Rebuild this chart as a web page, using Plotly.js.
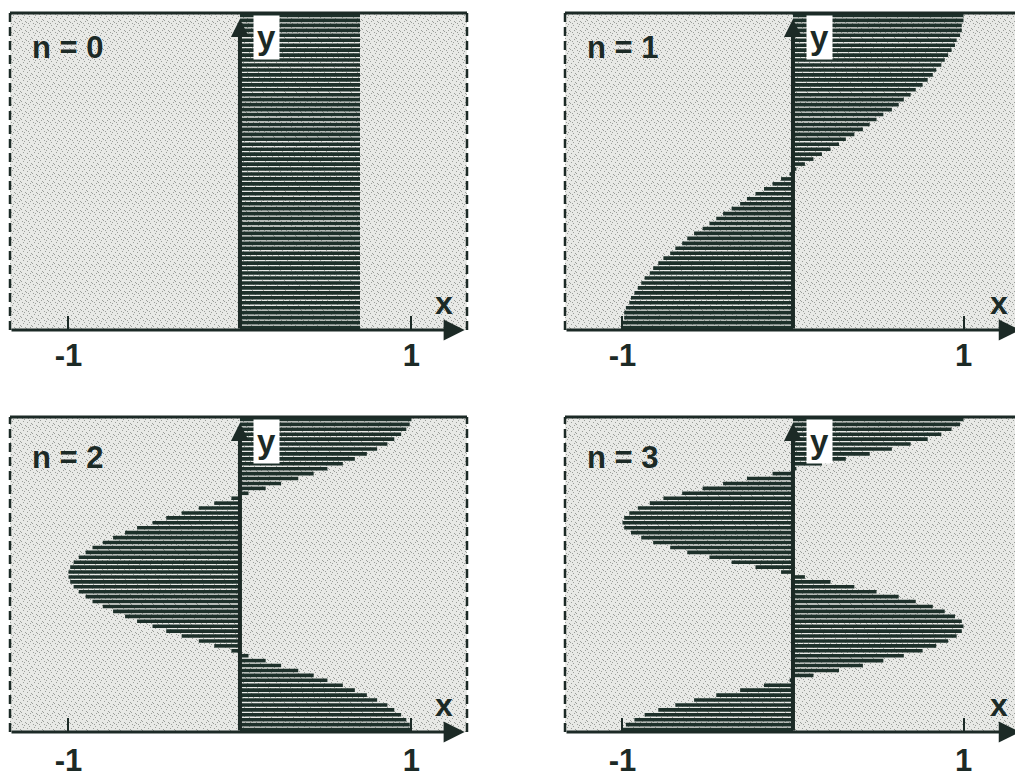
<!DOCTYPE html>
<html>
<head>
<meta charset="utf-8">
<script src="https://cdn.plot.ly/plotly-3.0.1.min.js"></script>
<style>
  html, body { margin: 0; padding: 0; background: #ffffff; }
  #chart { width: 1015px; height: 783px; }
</style>
</head>
<body>
<div id="chart"></div>
<script>
// Mode labels, one per panel
const modeLabels = ['n = 0', 'n = 1', 'n = 2', 'n = 3'];
// Ticks on every x axis
const tickValues = [-1, 1];
const tickLabels = ['-1', '1'];

// Amplitude of each of the 64 rows, listed from the top row down
const amplitudeN0 = [
  0.70, 0.70, 0.70, 0.70, 0.70, 0.70, 0.70, 0.70,
  0.70, 0.70, 0.70, 0.70, 0.70, 0.70, 0.70, 0.70,
  0.70, 0.70, 0.70, 0.70, 0.70, 0.70, 0.70, 0.70,
  0.70, 0.70, 0.70, 0.70, 0.70, 0.70, 0.70, 0.70,
  0.70, 0.70, 0.70, 0.70, 0.70, 0.70, 0.70, 0.70,
  0.70, 0.70, 0.70, 0.70, 0.70, 0.70, 0.70, 0.70,
  0.70, 0.70, 0.70, 0.70, 0.70, 0.70, 0.70, 0.70,
  0.70, 0.70, 0.70, 0.70, 0.70, 0.70, 0.70, 0.70
];
const amplitudeN1 = [
  1.00, 1.00, 0.99, 0.99, 0.98, 0.96, 0.95, 0.93,
  0.91, 0.89, 0.87, 0.84, 0.82, 0.79, 0.76, 0.72,
  0.69, 0.65, 0.62, 0.58, 0.53, 0.49, 0.45, 0.41,
  0.36, 0.31, 0.27, 0.22, 0.17, 0.12, 0.07, 0.02,
  -0.02, -0.07, -0.12, -0.17, -0.22, -0.27, -0.31, -0.36,
  -0.41, -0.45, -0.49, -0.53, -0.58, -0.62, -0.65, -0.69,
  -0.72, -0.76, -0.79, -0.82, -0.84, -0.87, -0.89, -0.91,
  -0.93, -0.95, -0.96, -0.98, -0.99, -0.99, -1.00, -1.00
];
const amplitudeN2 = [
  1.00, 0.99, 0.97, 0.94, 0.90, 0.86, 0.80, 0.74,
  0.67, 0.60, 0.51, 0.43, 0.34, 0.24, 0.15, 0.05,
  -0.05, -0.15, -0.24, -0.34, -0.43, -0.51, -0.60, -0.67,
  -0.74, -0.80, -0.86, -0.90, -0.94, -0.97, -0.99, -1.00,
  -1.00, -0.99, -0.97, -0.94, -0.90, -0.86, -0.80, -0.74,
  -0.67, -0.60, -0.51, -0.43, -0.34, -0.24, -0.15, -0.05,
  0.05, 0.15, 0.24, 0.34, 0.43, 0.51, 0.60, 0.67,
  0.74, 0.80, 0.86, 0.90, 0.94, 0.97, 0.99, 1.00
];
const amplitudeN3 = [
  1.00, 0.98, 0.93, 0.87, 0.79, 0.69, 0.58, 0.45,
  0.31, 0.17, 0.02, -0.12, -0.27, -0.41, -0.53, -0.65,
  -0.76, -0.84, -0.91, -0.96, -0.99, -1.00, -0.99, -0.95,
  -0.89, -0.82, -0.72, -0.62, -0.49, -0.36, -0.22, -0.07,
  0.07, 0.22, 0.36, 0.49, 0.62, 0.72, 0.82, 0.89,
  0.95, 0.99, 1.00, 0.99, 0.96, 0.91, 0.84, 0.76,
  0.65, 0.53, 0.41, 0.27, 0.12, -0.02, -0.17, -0.31,
  -0.45, -0.58, -0.69, -0.79, -0.87, -0.93, -0.98, -1.00
];

const W = 1015, H = 783;
const INK = '#1c2a26';
const BAR = '#1d302a';
const PANEL_BG = '#e8e9e6';
const FONT = 'Liberation Sans, Arial, sans-serif';

const ROWS = amplitudeN0.length;
// row centres, top row highest
const rowPos = amplitudeN0.map((_, j) => ROWS - 0.5 - j);

// pixel boxes of the four panels: [left, right, top, bottom]
const panels = [
  { amp: amplitudeN0, label: modeLabels[0], box: [10, 467, 13, 330],  xr: [-1.341, 1.324], rightEdge: true,  standoff: 4 },
  { amp: amplitudeN1, label: modeLabels[1], box: [565, 1015, 13, 330], xr: [-1.337, 1.302], rightEdge: false, standoff: 4 },
  { amp: amplitudeN2, label: modeLabels[2], box: [10, 467, 417, 732], xr: [-1.341, 1.324], rightEdge: true,  standoff: 7 },
  { amp: amplitudeN3, label: modeLabels[3], box: [565, 1015, 417, 732], xr: [-1.337, 1.302], rightEdge: false, standoff: 7 }
];

// fine stipple screen for the panel backgrounds
function stipple(w, h) {
  const dots = [[1,1],[5,0],[8,3],[2,4],[6,5],[10,6],[0,7],[4,8],[9,8],[7,1],[3,2]];
  const rects = dots.map(d => "<rect x='" + d[0] + "' y='" + d[1] + "' width='1' height='1' fill='#9b9e9a'/>").join('');
  const svg = "<svg xmlns='http://www.w3.org/2000/svg' width='" + w + "' height='" + h + "'>" +
    "<defs><pattern id='s' width='11' height='9' patternUnits='userSpaceOnUse'>" + rects +
    "</pattern></defs><rect width='" + w + "' height='" + h + "' fill='url(#s)'/></svg>";
  return 'data:image/svg+xml;charset=utf-8,' + encodeURIComponent(svg);
}

const data = [];
const layout = {
  width: W, height: H,
  margin: { l: 0, r: 0, t: 0, b: 0, pad: 0 },
  paper_bgcolor: '#ffffff',
  plot_bgcolor: PANEL_BG,
  showlegend: false,
  bargap: 0.27,
  font: { family: FONT, color: INK },
  annotations: [],
  shapes: [],
  images: []
};

panels.forEach((p, i) => {
  const n = i + 1;
  const xa = n === 1 ? 'x' : 'x' + n;
  const ya = n === 1 ? 'y' : 'y' + n;
  const xKey = n === 1 ? 'xaxis' : 'xaxis' + n;
  const yKey = n === 1 ? 'yaxis' : 'yaxis' + n;
  const [l, r, t, b] = p.box;

  data.push({
    type: 'bar',
    orientation: 'h',
    x: p.amp,
    y: rowPos,
    xaxis: xa,
    yaxis: ya,
    marker: { color: BAR, line: { width: 0 } },
    hoverinfo: 'skip'
  });

  layout[xKey] = {
    domain: [l / W, r / W],
    anchor: ya,
    range: p.xr,
    showgrid: false,
    zeroline: false,
    showline: false,
    ticks: 'inside',
    ticklen: 14,
    tickwidth: 2,
    tickcolor: INK,
    tickvals: tickValues,
    ticktext: tickLabels,
    ticklabelstandoff: p.standoff,
    tickfont: { family: FONT, size: 31, weight: 'bold', color: INK },
    fixedrange: true
  };
  layout[yKey] = {
    domain: [1 - b / H, 1 - t / H],
    anchor: xa,
    range: [0, ROWS],
    showgrid: false,
    zeroline: false,
    showline: false,
    showticklabels: false,
    ticks: '',
    fixedrange: true
  };

  layout.images.push({
    source: stipple(r - l, b - t),
    xref: 'paper', yref: 'paper',
    x: l / W, y: 1 - t / H, sizex: (r - l) / W, sizey: (b - t) / H,
    xanchor: 'left', yanchor: 'top', sizing: 'stretch', layer: 'below'
  });

  const xd = xa + ' domain';
  const yd = ya + ' domain';

  // frame: solid top edge, dashed side edges
  layout.shapes.push({
    type: 'line', xref: xd, yref: yd, x0: 0, x1: 1, y0: 1, y1: 1,
    line: { color: INK, width: 3 }
  });
  layout.shapes.push({
    type: 'line', xref: xd, yref: yd, x0: 0, x1: 0, y0: 0, y1: 1,
    line: { color: INK, width: 2.5, dash: '9px,5px' }
  });
  if (p.rightEdge) {
    layout.shapes.push({
      type: 'line', xref: xd, yref: yd, x0: 1, x1: 1, y0: 0, y1: 1,
      line: { color: INK, width: 2.5, dash: '9px,5px' }
    });
  }

  // x axis with arrow head
  layout.annotations.push({
    xref: xa, yref: ya, axref: xa, ayref: ya,
    x: p.rightEdge ? 1.31 : 1.33, y: 0, ax: p.xr[0], ay: 0,
    text: '', showarrow: true, arrowhead: 2, arrowsize: 1.4,
    arrowwidth: 3, arrowcolor: INK, standoff: 0, startstandoff: 0
  });
  // y axis with arrow head
  layout.annotations.push({
    xref: xa, yref: ya, axref: xa, ayref: ya,
    x: 0, y: ROWS - 1.2, ax: 0, ay: 0,
    text: '', showarrow: true, arrowhead: 2, arrowsize: 0.9,
    arrowwidth: 4, arrowcolor: INK, standoff: 0, startstandoff: 0
  });

  // mode label
  layout.annotations.push({
    xref: xd, yref: yd, x: 20 / (r - l), y: i < 2 ? 0.89 : 0.872,
    xanchor: 'left', yanchor: 'middle', showarrow: false,
    text: p.label, font: { family: FONT, size: 31, weight: 'bold', color: INK }
  });
  // axis names
  layout.annotations.push({
    xref: xa, yref: yd, x: 0.074, y: 0.993,
    xanchor: 'left', yanchor: 'top', showarrow: false,
    text: 'y', bgcolor: '#ffffff', borderpad: 3,
    font: { family: FONT, size: 33, weight: 'bold', color: INK }
  });
  layout.annotations.push({
    xref: xa, yref: yd, x: p.rightEdge ? 1.19 : 1.21, y: 0.085,
    xanchor: 'center', yanchor: 'middle', showarrow: false,
    text: 'x',
    font: { family: FONT, size: 32, weight: 'bold', color: INK }
  });
});

Plotly.newPlot('chart', data, layout, { staticPlot: true, displayModeBar: false });
</script>
</body>
</html>
